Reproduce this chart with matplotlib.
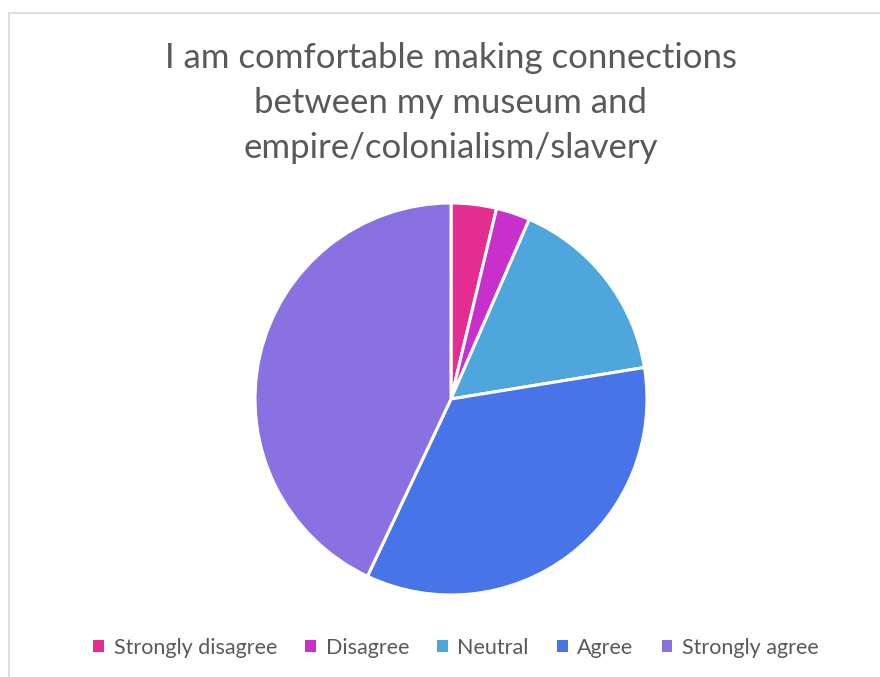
import matplotlib.pyplot as plt
from matplotlib.patches import Rectangle, Patch

# survey responses
labels = ['Strongly disagree', 'Disagree', 'Neutral', 'Agree', 'Strongly agree']
counts = [4, 3, 17, 37, 46]
colors = ['#E32D91', '#C830CC', '#4EA6DC', '#4775E7', '#8971E1']

title = 'I am comfortable making connections\nbetween my museum and\nempire/colonialism/slavery'
text_color = '#595959'

plt.rcParams['font.family'] = ['Lato', 'DejaVu Sans']

W, H = 880, 677
fig = plt.figure(figsize=(W / 100, H / 100), dpi=100)

# chart area border (open on right and bottom)
fig.patches.append(Rectangle((9 / W, -0.1), 1.2, 1 - 13 / H + 0.1,
                             transform=fig.transFigure, fill=False,
                             edgecolor='#D9D9D9', linewidth=1.2))

# pie axes, centred on the plot area
cx, cy, r = 451, 399, 196
ax = fig.add_axes([(cx - r) / W, 1 - (cy + r) / H, 2 * r / W, 2 * r / H])
ax.pie(counts, colors=colors, startangle=90, counterclock=False,
       wedgeprops=dict(edgecolor='white', linewidth=2.2))
ax.set_aspect('equal')
ax.set_xlim(-1, 1)
ax.set_ylim(-1, 1)

fig.text(451 / W, 1 - 103 / H, title, ha='center', va='center',
         fontsize=25, color=text_color, linespacing=1.5)

handles = [Patch(facecolor=c, edgecolor='none') for c in colors]
fig.legend(handles, labels, loc='center', bbox_to_anchor=(456 / W, 1 - 648 / H),
           ncol=5, frameon=False, fontsize=15.5, labelcolor=text_color,
           handlelength=0.5, handleheight=0.5, handletextpad=0.45,
           columnspacing=1.3)

fig.savefig('out.png', dpi=100)
